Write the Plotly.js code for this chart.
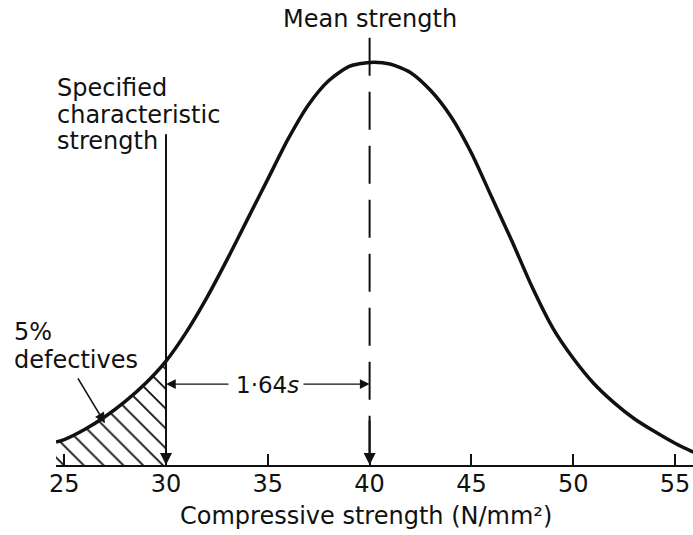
<!DOCTYPE html>
<html>
<head>
<meta charset="utf-8">
<script src="https://cdn.plot.ly/plotly-3.0.1.min.js"></script>
<style>
  html, body { margin: 0; padding: 0; background: #ffffff; }
  #chart { width: 693px; height: 535px; }
</style>
</head>
<body>
<div id="chart"></div>
<script>
// Compressive strength (N/mm²) and relative frequency (peak = 100)
const strength  = [24.6, 25, 26, 27, 28, 29, 30, 31, 32, 33, 34, 35, 36, 37, 38, 39, 40,
                   41, 42, 43, 44, 45, 46, 47, 48, 49, 50, 51, 52, 53, 54, 55, 55.9];
const frequency = [5.7, 6.3, 8.8, 12.0, 15.8, 20.3, 25.8, 33.0, 41.5, 51.0, 61.0, 71.0, 81.0, 89.5, 95.5, 99.0, 100,
                   99.6, 97.5, 93.0, 86.5, 77.5, 66.5, 55.5, 44.0, 34.0, 26.5, 20.3, 15.5, 11.5, 8.3, 5.4, 3.2];
const tickValues = [25, 30, 35, 40, 45, 50, 55];
const tickLabels = ['25', '30', '35', '40', '45', '50', '55'];
const charStrength = 30;   // specified characteristic strength
const meanStrength = 40;   // mean strength
const marginLabel = '1·64<i>s</i>';
const defectLabel = ['5%', 'defectives'];
const charLabel = ['Specified', 'characteristic', 'strength'];
const meanLabel = 'Mean strength';
const axisTitle = 'Compressive strength (N/mm²)';

const ink = '#111111';
const FONT = 'DejaVu Sans, Liberation Sans, sans-serif';

// hatched tail (strength ≤ characteristic strength)
const hx = [], hy = [];
strength.forEach((v, i) => { if (v <= charStrength) { hx.push(v); hy.push(frequency[i]); } });

const traces = [
  {
    x: hx, y: hy, type: 'scatter', mode: 'lines',
    line: { width: 0, shape: 'spline', smoothing: 0.7, color: ink },
    fill: 'tozeroy',
    fillpattern: { shape: '\\', size: 14, solidity: 0.13, fgcolor: ink, bgcolor: '#ffffff' },
    hoverinfo: 'skip', showlegend: false
  },
  {
    x: strength, y: frequency, type: 'scatter', mode: 'lines',
    line: { width: 3.5, shape: 'spline', smoothing: 0.7, color: ink },
    hoverinfo: 'skip', showlegend: false
  }
];

const txt = (size) => ({ family: FONT, size: size, color: ink });
const annotations = [];

// Mean strength label
annotations.push({ x: meanStrength, y: 110.9, xref: 'x', yref: 'y', text: meanLabel,
  showarrow: false, xanchor: 'center', yanchor: 'middle', font: txt(24) });

// Specified characteristic strength label (three lines)
const charY = [93.7, 87.0, 80.6];
charLabel.forEach((t, i) => annotations.push({ x: -0.002, y: charY[i], xref: 'paper', yref: 'y',
  text: t, showarrow: false, xanchor: 'left', yanchor: 'middle', font: txt(24) }));

// 5% defectives label
const defY = [33.1, 26.0];
defectLabel.forEach((t, i) => annotations.push({ x: -0.069, y: defY[i], xref: 'paper', yref: 'y',
  text: t, showarrow: false, xanchor: 'left', yanchor: 'middle', font: txt(24) }));

// arrow from label to hatched area
annotations.push({ x: 27.0, y: 10.4, ax: 25.63, ay: 21.9, xref: 'x', yref: 'y', axref: 'x', ayref: 'y',
  text: '', showarrow: true, arrowhead: 2, arrowsize: 1.3, arrowwidth: 1.6, arrowcolor: ink });

// vertical line at characteristic strength with arrow to axis
annotations.push({ x: charStrength, y: 0, ax: charStrength, ay: 82.5, xref: 'x', yref: 'y', axref: 'x', ayref: 'y',
  text: '', showarrow: true, arrowhead: 2, arrowsize: 1.2, arrowwidth: 2, arrowcolor: ink });

// arrow at foot of mean line
annotations.push({ x: meanStrength, y: 0, ax: meanStrength, ay: 11.4, xref: 'x', yref: 'y', axref: 'x', ayref: 'y',
  text: '', showarrow: true, arrowhead: 2, arrowsize: 1.2, arrowwidth: 2, arrowcolor: ink });

// 1.64s dimension
annotations.push({ x: 35, y: 19.9, xref: 'x', yref: 'y', text: marginLabel,
  showarrow: false, xanchor: 'center', yanchor: 'middle', font: txt(23) });
annotations.push({ x: charStrength, y: 20.1, ax: 33.14, ay: 20.1, xref: 'x', yref: 'y', axref: 'x', ayref: 'y',
  text: '', showarrow: true, arrowhead: 2, arrowsize: 1.5, arrowwidth: 1.3, arrowcolor: ink });
annotations.push({ x: meanStrength, y: 20.1, ax: 36.68, ay: 20.1, xref: 'x', yref: 'y', axref: 'x', ayref: 'y',
  text: '', showarrow: true, arrowhead: 2, arrowsize: 1.5, arrowwidth: 1.3, arrowcolor: ink });

// axis title
annotations.push({ x: 0.4874, y: -0.1112, xref: 'paper', yref: 'paper', text: axisTitle,
  showarrow: false, xanchor: 'center', yanchor: 'middle', font: txt(24) });

const layout = {
  width: 693, height: 535,
  margin: { l: 56, r: 0, t: 2, b: 70, pad: 0 },
  paper_bgcolor: '#ffffff', plot_bgcolor: '#ffffff',
  showlegend: false,
  xaxis: {
    range: [24.597, 55.884], fixedrange: true,
    tickmode: 'array', tickvals: tickValues, ticktext: tickLabels,
    ticks: 'inside', ticklen: 11, tickwidth: 2, tickcolor: ink,
    showline: true, linewidth: 2, linecolor: ink,
    showgrid: false, zeroline: false,
    tickfont: { family: FONT, size: 24, color: ink },
    ticklabelstandoff: -4,
    automargin: false
  },
  yaxis: { range: [0, 115], visible: false, fixedrange: true, showgrid: false, zeroline: false },
  shapes: [
    { type: 'line', xref: 'x', yref: 'y', x0: meanStrength, x1: meanStrength, y0: 106.1, y1: 0,
      line: { color: ink, width: 2, dash: '38px,16px' } }
  ],
  annotations: annotations
};

Plotly.newPlot('chart', traces, layout, { staticPlot: true, displayModeBar: false });
</script>
</body>
</html>
